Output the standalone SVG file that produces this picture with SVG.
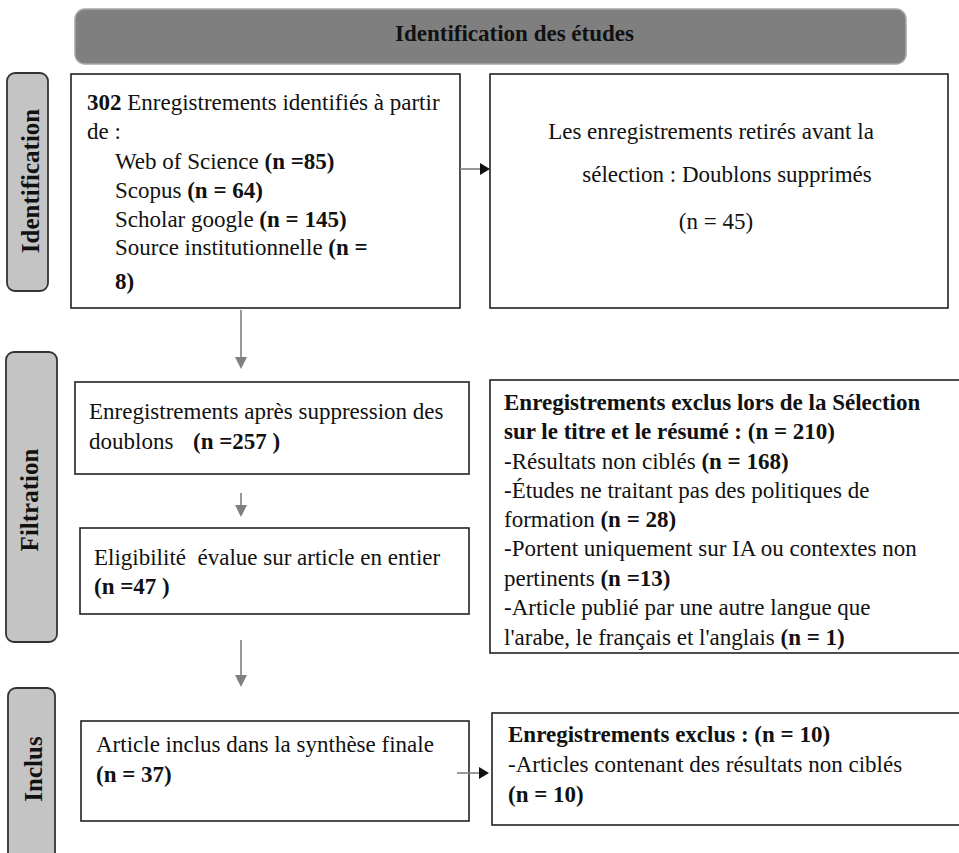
<svg xmlns="http://www.w3.org/2000/svg" width="959" height="853" viewBox="0 0 959 853">
<style>
  .t { font-family: "Liberation Serif", "Times New Roman", serif; font-size: 23px; fill: #111; white-space: pre; }
  .b { font-weight: bold; }
  .box { fill: #fff; stroke: #222; stroke-width: 1.6; }
  .side { fill: #c4c4c4; stroke: #333; stroke-width: 1.8; }
  .sideT { font-family: "Liberation Serif", "Times New Roman", serif; font-size: 25px; font-weight: bold; fill: #111; }
  .vline { stroke: #808080; stroke-width: 1.6; fill: none; }
  .hline { stroke: #808080; stroke-width: 1.6; fill: none; }
</style>
<rect width="959" height="853" fill="#fff"/>

<g id="header">
  <rect x="75" y="9" width="831" height="55" rx="10" fill="#7f7f7f" stroke="#a6a6a6" stroke-width="1.5"/>
  <text class="t b" x="395" y="41">Identification des études</text>
</g>

<g id="label-identification">
  <rect class="side" x="7" y="73" width="41" height="218" rx="8"/>
  <text class="sideT" transform="translate(39,181) rotate(-90)" text-anchor="middle">Identification</text>
</g>
<g id="label-filtration">
  <rect class="side" x="6" y="352" width="51" height="290" rx="8"/>
  <text class="sideT" transform="translate(38,500) rotate(-90)" text-anchor="middle">Filtration</text>
</g>
<g id="label-inclus">
  <rect class="side" x="8" y="688" width="47" height="190" rx="8"/>
  <text class="sideT" transform="translate(42,769) rotate(-90)" text-anchor="middle">Inclus</text>
</g>

<g id="box-identified">
  <rect class="box" x="71" y="74" width="389" height="234"/>
  <text class="t" x="87" y="110"><tspan class="b">302</tspan> Enregistrements identifiés à partir</text>
  <text class="t" x="87" y="139">de :</text>
  <text class="t" x="115" y="169">Web of Science <tspan class="b">(n =85)</tspan></text>
  <text class="t" x="115" y="198">Scopus <tspan class="b">(n = 64)</tspan></text>
  <text class="t" x="115" y="227">Scholar google <tspan class="b">(n = 145)</tspan></text>
  <text class="t" x="115" y="255">Source institutionnelle <tspan class="b">(n =</tspan></text>
  <text class="t b" x="115" y="289">8)</text>
</g>

<g id="box-removed">
  <rect class="box" x="490" y="74" width="458" height="234"/>
  <text class="t" x="711" y="139" text-anchor="middle">Les enregistrements retirés avant la</text>
  <text class="t" x="727" y="182" text-anchor="middle">sélection : Doublons supprimés</text>
  <text class="t" x="716" y="229" text-anchor="middle">(n = 45)</text>
</g>

<g id="box-after-dedup">
  <rect class="box" x="75" y="382" width="394" height="92"/>
  <text class="t" x="89" y="419">Enregistrements après suppression des</text>
  <text class="t" x="89" y="449">doublons</text>
  <text class="t b" x="193" y="449">(n =257 )</text>
</g>

<g id="box-eligibility">
  <rect class="box" x="80" y="528" width="389" height="86"/>
  <text class="t" x="94" y="565">Eligibilité  évalue sur article en entier</text>
  <text class="t b" x="94" y="594">(n =47 )</text>
</g>

<g id="box-excluded-screening">
  <rect class="box" x="490" y="380" width="490" height="273"/>
  <text class="t b" x="504" y="410">Enregistrements exclus lors de la Sélection</text>
  <text class="t b" x="504" y="439">sur le titre et le résumé : (n = 210)</text>
  <text class="t" x="504" y="469">-Résultats non ciblés <tspan class="b">(n = 168)</tspan></text>
  <text class="t" x="504" y="498">-Études ne traitant pas des politiques de</text>
  <text class="t" x="504" y="527">formation <tspan class="b">(n = 28)</tspan></text>
  <text class="t" x="504" y="556">-Portent uniquement sur IA ou contextes non</text>
  <text class="t" x="504" y="586">pertinents <tspan class="b">(n =13)</tspan></text>
  <text class="t" x="504" y="615">-Article publié par une autre langue que</text>
  <text class="t" x="504" y="645">l'arabe, le français et l'anglais <tspan class="b">(n = 1)</tspan></text>
</g>

<g id="box-included">
  <rect class="box" x="81" y="721" width="388" height="100"/>
  <text class="t" x="96" y="752">Article inclus dans la synthèse finale</text>
  <text class="t b" x="96" y="782">(n = 37)</text>
</g>

<g id="box-excluded-final">
  <rect class="box" x="492" y="713" width="490" height="112"/>
  <text class="t b" x="508" y="742">Enregistrements exclus : (n = 10)</text>
  <text class="t" x="508" y="772">-Articles contenant des résultats non ciblés</text>
  <text class="t b" x="508" y="802">(n = 10)</text>
</g>

<g id="connectors">
  <line class="hline" x1="460" y1="169" x2="482" y2="169"/>
  <polygon points="480,163 490,169 480,175" fill="#111"/>
  <line class="vline" x1="241" y1="310" x2="241" y2="358"/>
  <polygon points="235,357 247,357 241,369" fill="#808080"/>
  <line class="vline" x1="241" y1="493" x2="241" y2="506"/>
  <polygon points="235,505 247,505 241,517" fill="#808080"/>
  <line class="vline" x1="241" y1="640" x2="241" y2="676"/>
  <polygon points="235,675 247,675 241,687" fill="#808080"/>
  <line class="hline" x1="457" y1="773" x2="481" y2="773"/>
  <polygon points="479,767 489,773 479,779" fill="#111"/>
</g>
</svg>
